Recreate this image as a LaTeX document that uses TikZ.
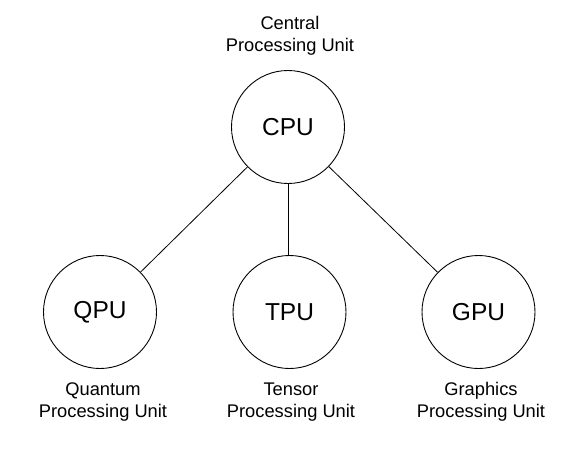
\documentclass[tikz,border=0pt]{standalone}
\usepackage{fontspec}
\setmainfont{Liberation Sans}
\begin{document}
\begin{tikzpicture}[x=1pt,y=-1pt,
  unit/.style={circle,draw,line width=0.9pt,minimum size=113pt,inner sep=0pt,
    font=\fontsize{24.5}{28}\selectfont},
  caption/.style={align=center,inner sep=0pt,
    font=\fontsize{18.3}{21.5}\selectfont},
  link/.style={line width=0.8pt}]
  \useasboundingbox (0,0) rectangle (584,452);
  % processing units
  \node[unit] (cpu) at (288,127) {CPU};
  \node[unit] (qpu) at (100,312) {QPU};
  \node[unit] (tpu) at (289.5,312) {TPU};
  \node[unit] (gpu) at (478.5,312) {GPU};
  % captions
  \node[caption] (cpulbl) at (290,36) {Central\\Processing Unit};
  \node[caption] (qpulbl) at (103,402) {Quantum\\Processing Unit};
  \node[caption] (tpulbl) at (291,402) {Tensor\\Processing Unit};
  \node[caption] (gpulbl) at (481,402) {Graphics\\Processing Unit};
  % links from the central unit
  \draw[link] (cpu) -- (qpu);
  \draw[link] (cpu.south) -- (cpu.south |- tpu.north);
  \draw[link] (cpu) -- (gpu);
\end{tikzpicture}
\end{document}
